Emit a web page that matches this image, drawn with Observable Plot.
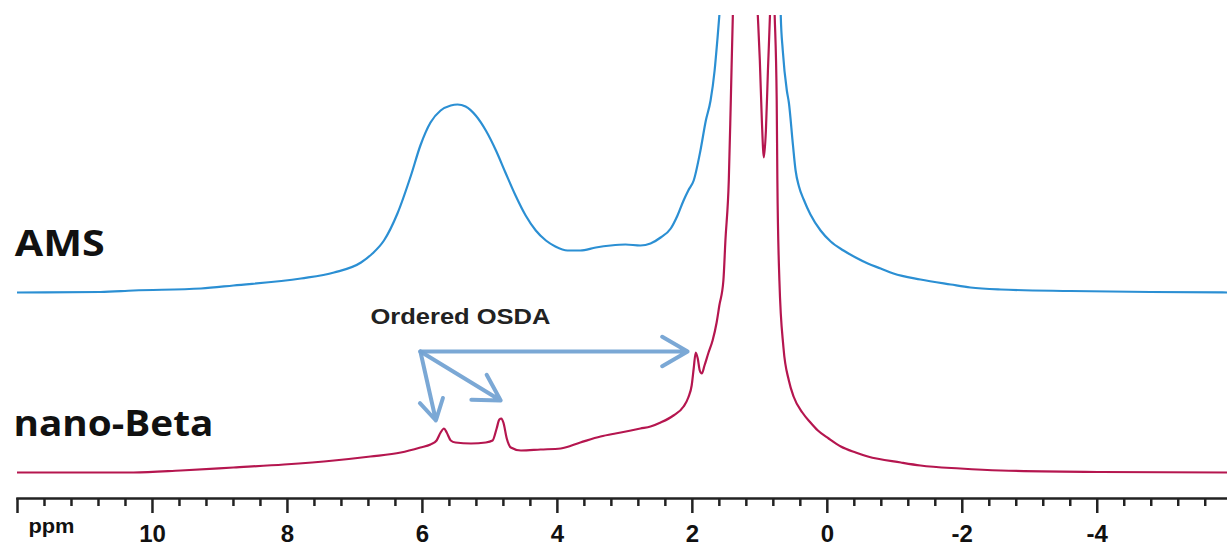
<!DOCTYPE html>
<html>
<head>
<meta charset="utf-8">
<script src="https://cdn.jsdelivr.net/npm/d3@7"></script>
<script src="https://cdn.jsdelivr.net/npm/@observablehq/plot@0.6"></script>
<style>
  html, body { margin: 0; padding: 0; background: #fff; }
  #chart { width: 1227px; height: 546px; }
</style>
</head>
<body>
<div id="chart"></div>
<script>
// ---- Data ----
const seriesNames = ["AMS", "nano-Beta"];
const seriesColors = ["#2b8fd3", "#b5164f"];
const seriesOffsets = [180, 0];

// AMS: chemical shift (ppm) and relative intensity
const ppmAMS = [12.00, 10.77, 10.28, 9.28, 8.80, 7.80, 7.31, 6.91, 6.74, 6.57, 6.37, 6.17, 6.03, 5.88, 5.73, 5.58, 5.48, 5.36, 5.21, 5.06, 4.91, 4.77, 4.62, 4.47, 4.32, 4.17, 4.03, 3.85, 3.66, 3.43, 3.21, 2.99, 2.77, 2.62, 2.47, 2.32, 2.22, 2.13, 2.06, 1.98, 1.88, 1.80, 1.73, 1.67, 1.63, 1.60, 1.50, 1.20, 0.90, 0.72, 0.69, 0.66, 0.60, 0.57, 0.51, 0.47, 0.42, 0.35, 0.25, 0.10, -0.05, -0.24, -0.42, -0.60, -0.79, -0.98, -1.38, -1.83, -2.12, -2.57, -3.60, -4.79, -5.93];
const intAMS = [0, 0.5, 2, 4, 7, 14, 20, 30, 39, 52, 79, 117, 147, 170, 182, 187, 188, 186, 177, 162, 142, 120, 97, 77, 62, 52, 46, 42, 42, 45, 47, 48, 47, 49, 55, 64, 77, 92, 102, 112, 142, 172, 192, 222, 252, 277, 400, 600, 600, 400, 277, 242, 202, 190, 148, 122, 106, 93, 78, 62, 51, 42, 35, 29, 24, 19, 13, 8, 5, 3, 1.5, 0.5, 0];

// nano-Beta
const ppmBeta = [12.00, 11.06, 10.28, 9.58, 8.80, 8.05, 7.31, 6.77, 6.32, 6.03, 5.88, 5.79, 5.73, 5.68, 5.64, 5.58, 5.51, 5.28, 5.06, 4.96, 4.90, 4.86, 4.83, 4.80, 4.75, 4.69, 4.54, 4.25, 3.95, 3.66, 3.36, 3.14, 3.06, 2.91, 2.77, 2.62, 2.47, 2.28, 2.13, 2.06, 2.01, 1.98, 1.95, 1.92, 1.89, 1.86, 1.82, 1.76, 1.70, 1.64, 1.60, 1.54, 1.51, 1.46, 1.43, 1.40, 1.23, 1.03, 1.00, 0.97, 0.94, 0.91, 0.88, 0.85, 0.82, 0.78, 0.75, 0.74, 0.71, 0.65, 0.57, 0.50, 0.37, 0.25, 0.14, -0.02, -0.20, -0.42, -0.60, -1.09, -1.38, -1.97, -2.57, -4.05, -5.93];
const intBeta = [0, 0, 0, 2, 5, 8, 12, 16, 20, 25, 28, 32, 40, 44, 40, 32, 30, 29, 30, 32, 44, 53, 54, 50, 34, 25, 22, 23, 24, 30, 36, 39, 40, 42, 44, 46, 50, 57, 66, 75, 87, 104, 120, 114, 102, 99, 107, 120, 132, 150, 167, 192, 232, 292, 372, 457, 650, 457, 412, 352, 315, 342, 402, 457, 530, 457, 372, 292, 192, 125, 92, 76, 60, 50, 42, 34, 26, 20, 16, 10, 7, 4, 2, 0.5, 0];

// Annotation arrows ("Ordered OSDA")
const arrowFromPpm = [6.03, 6.03, 6.03];
const arrowFromInt = [121, 121, 121];
const arrowToPpm = [2.07, 4.84, 5.80];
const arrowToInt = [121, 72, 52];

// Axis ticks
const majorTicks = [12, 10, 8, 6, 4, 2, 0, -2, -4];
const labelTicks = [10, 8, 6, 4, 2, 0, -2, -4];
const minorTicks = d3.range(0, 45).map(i => +(12 - 0.4 * i).toFixed(1)).filter(v => v > -5.9 && !majorTicks.includes(v));

// Text labels
const labelTexts = ["AMS", "nano-Beta"];
const labelPpm = [12.04, 12.06];
const labelY = [217, 37];
const osdaText = "Ordered OSDA";
const osdaPpm = 6.77;
const osdaY = 149;
const unitText = "ppm";

// ---- Build tables ----
const rows = [];
[[ppmAMS, intAMS], [ppmBeta, intBeta]].forEach(([px, iy], s) => {
  px.forEach((p, i) => rows.push({series: seriesNames[s], ppm: p, y: iy[i] + seriesOffsets[s]}));
});
const arrows = arrowFromPpm.map((p, i) => ({x1: p, y1: arrowFromInt[i], x2: arrowToPpm[i], y2: arrowToInt[i]}));
const labels = labelTexts.map((t, i) => ({t, x: labelPpm[i], y: labelY[i]}));

const blank = () => "";

const chart = Plot.plot({
  width: 1227,
  height: 546,
  marginLeft: 17,
  marginRight: 0,
  marginTop: 15,
  marginBottom: 48,
  x: {domain: [12, -5.93]},
  y: {domain: [-26, 457], axis: null},
  color: {domain: seriesNames, range: seriesColors},
  style: {fontFamily: "'Liberation Sans', Arial, sans-serif", background: "#fff"},
  marks: [
    Plot.line(rows, {x: "ppm", y: "y", z: "series", stroke: "series", strokeWidth: 2.2, curve: "monotone-x", clip: true}),
    Plot.arrow(arrows, {x1: "x1", y1: "y1", x2: "x2", y2: "y2", stroke: "#74a3d3", strokeWidth: 4, headLength: 11, headAngle: 60, strokeOpacity: 0.95}),
    Plot.text(labels, {x: "x", y: "y", text: "t", textAnchor: "start", lineAnchor: "bottom", fontSize: 36, fontWeight: "bold", fill: "#111", fontFamily: "'Open Sans', sans-serif"}),
    Plot.text([osdaText], {x: () => osdaPpm, y: () => osdaY, text: d => d, textAnchor: "start", lineAnchor: "bottom", fontSize: 22, fontWeight: "bold", fill: "#222"}),
    Plot.frame({anchor: "bottom", stroke: "#222", strokeWidth: 2.5}),
    Plot.axisX({ticks: majorTicks, tickSize: 15, tickFormat: blank, strokeWidth: 2.5, stroke: "#222"}),
    Plot.axisX({ticks: minorTicks, tickSize: 8, tickFormat: blank, strokeWidth: 2.5, stroke: "#222"}),
    Plot.axisX({ticks: labelTicks, tickSize: 0, tickPadding: 26, tickFormat: d => String(d), fontSize: 24, fontWeight: "bold", fill: "#111", fontFamily: "'Liberation Sans Narrow', 'Liberation Sans', Arial, sans-serif"}),
    Plot.text([unitText], {frameAnchor: "bottom-left", dx: 11, dy: 34, lineAnchor: "bottom", textAnchor: "start", text: d => d, fontSize: 21, fontWeight: "bold", fill: "#111"})
  ]
});

// stretch the hand-set labels horizontally as in the reference
const widths = {"AMS": 90, "nano-Beta": 200, "Ordered OSDA": 180, "ppm": 46};
d3.select(chart).selectAll("text").each(function() {
  const t = this.textContent;
  if (widths[t]) {
    this.setAttribute("textLength", widths[t]);
    this.setAttribute("lengthAdjust", "spacingAndGlyphs");
  }
});

document.getElementById("chart").appendChild(chart);
</script>
</body>
</html>
